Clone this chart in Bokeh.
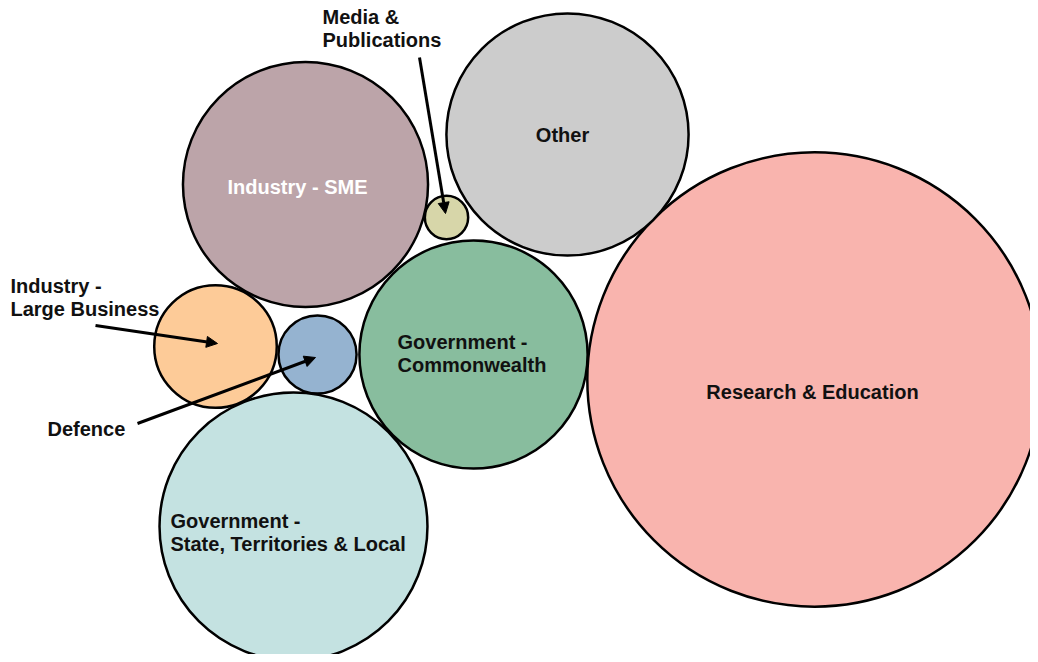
from bokeh.plotting import figure
from bokeh.models import ColumnDataSource, Range1d, Arrow, NormalHead
from bokeh.core.properties import value
from bokeh.embed import file_html
from bokeh.resources import INLINE
import math

# ---- data ----
categories = ["Research & Education", "Other", "Industry - SME", "Media & Publications",
              "Government - Commonwealth", "Industry - Large Business", "Defence",
              "Government - State, Territories & Local"]
shares = [44.0, 12.5, 12.8, 0.4, 11.1, 3.2, 1.3, 15.3]

# ---- layout (bubble centres in page pixels) ----
bubble_x = [814, 567, 305, 446, 473, 215, 317, 293]
bubble_y = [379, 134, 184, 217, 354, 346, 354, 526]
colors = ["#F9B4AE", "#CCCCCC", "#BCA4A9", "#D7D6A9", "#88BD9E", "#FDCB98", "#95B3D0", "#C4E2E1"]
scale = 34.25
radii = [scale * math.sqrt(v) for v in shares]

label_text = ["Research & Education", "Other", "Industry - SME", "Media &\nPublications",
              "Government -\nCommonwealth", "Industry -\nLarge Business", "Defence",
              "Government -\nState, Territories & Local"]
label_x = [812, 562, 297, 322, 397, 10, 47, 170]
label_y = [391, 134, 186, 28, 353, 297, 428, 532]
label_align = ["center", "center", "center", "left", "left", "left", "left", "left"]
label_color = ["#111111", "#111111", "#FFFFFF", "#111111", "#111111", "#111111", "#111111", "#111111"]

arrow_x0 = [95, 137, 419]
arrow_y0 = [325, 423, 57]
arrow_x1 = [217, 315, 445]
arrow_y1 = [343, 357, 213]

p = figure(width=1030, height=654, output_backend="svg", toolbar_location=None,
           x_range=Range1d(0, 1030), y_range=Range1d(654, 0), min_border=0)
p.axis.visible = False
p.grid.visible = False
p.outline_line_color = None
p.background_fill_color = "white"

src = ColumnDataSource(dict(x=bubble_x, y=bubble_y, r=radii, c=colors, cat=categories, v=shares))
p.circle(x="x", y="y", radius="r", fill_color="c", fill_alpha=1.0, line_color="black",
         line_width=2.5, source=src)

lsrc = ColumnDataSource(dict(x=label_x, y=label_y, t=label_text, a=label_align, c=label_color))
p.text(x="x", y="y", text="t", text_align="a", text_color="c", text_baseline="middle",
       text_font=value("Liberation Sans"), text_font_style="bold", text_font_size="20px",
       text_line_height=1.07, source=lsrc)

asrc = ColumnDataSource(dict(x0=arrow_x0, y0=arrow_y0, x1=arrow_x1, y1=arrow_y1))
p.add_layout(Arrow(end=NormalHead(size=11, fill_color="black", line_color="black"),
                   x_start="x0", y_start="y0", x_end="x1", y_end="y1",
                   line_width=3, line_color="black", source=asrc))

open("out.html", "w").write(file_html(p, INLINE))
